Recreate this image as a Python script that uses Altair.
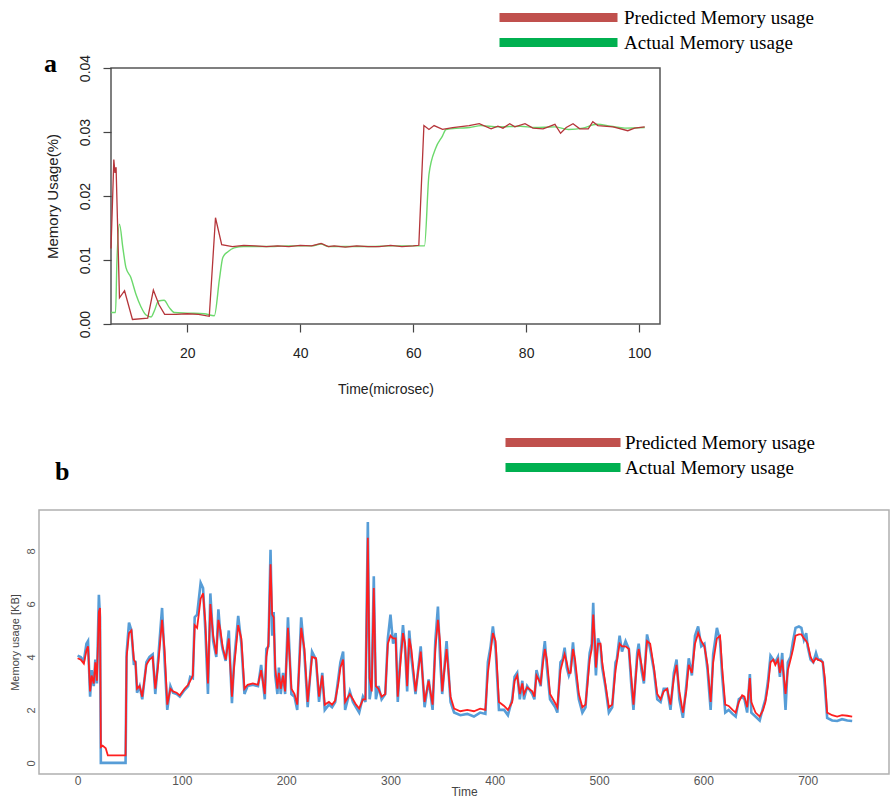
import altair as alt
import pandas as pd

# ---------------- panel a data ----------------
a_pred_t = [6.5, 6.8, 7.0, 7.2, 7.4, 8.0, 8.9, 10.3, 13.0, 14.0, 15.0, 16.0, 18.0, 20.0, 22.0, 23.9,
            25.0, 26.1, 28, 30, 32, 34, 36, 38, 40, 42, 43.7, 45, 46, 48, 50, 52, 54, 56, 58, 60, 61,
            61.9, 62.8, 63.7, 65.2, 67, 69.9, 71.7, 73.8, 75, 75.9, 77.1, 78, 79.8, 81.2, 83, 85.1,
            86.1, 87.1, 88.3, 89.5, 91, 91.8, 92.7, 95.4, 98, 99.2, 101]
a_pred_v = [0.0118, 0.0200, 0.0257, 0.0236, 0.0245, 0.0041, 0.0052, 0.0007, 0.0009, 0.0053, 0.0030,
            0.0015, 0.0015, 0.0016, 0.0015, 0.0012, 0.0166, 0.0124, 0.0121, 0.0123, 0.0122, 0.0121,
            0.0122, 0.0121, 0.0123, 0.0122, 0.0126, 0.0121, 0.0122, 0.0120, 0.0122, 0.0121, 0.0121,
            0.0123, 0.0121, 0.0122, 0.0123, 0.0310, 0.0304, 0.0310, 0.0304, 0.0307, 0.0310, 0.0313,
            0.0305, 0.0309, 0.0306, 0.0313, 0.0308, 0.0313, 0.0306, 0.0305, 0.0312, 0.0298, 0.0307,
            0.0313, 0.0305, 0.0305, 0.0316, 0.0310, 0.0308, 0.0302, 0.0306, 0.0308]

a_act_t = [6.5, 7.3, 7.55, 8.0, 8.6, 9.15, 10.0, 10.9, 11.8, 12.7, 13.6, 14.2, 14.9, 15.9, 16.8, 17.7,
           20, 23, 24.8, 25.7, 26.3, 27.2, 28.3, 30, 34, 38, 42, 43.7, 45, 48, 52, 56, 60, 62, 62.8,
           64, 65.2, 65.8, 68.2, 70, 72, 75, 79, 81.5, 85, 87.5, 90, 92.5, 95, 97.5, 101]
a_act_v = [0.0018, 0.0018, 0.0098, 0.0156, 0.0119, 0.0088, 0.0073, 0.0047, 0.0027, 0.0014, 0.0011,
           0.0021, 0.0036, 0.0037, 0.0026, 0.0018, 0.0017, 0.0016, 0.0013, 0.0070, 0.0104, 0.0113,
           0.0119, 0.0121, 0.0121, 0.0122, 0.0122, 0.0125, 0.0121, 0.0121, 0.0121, 0.0122, 0.0122,
           0.0122, 0.0234, 0.0275, 0.0294, 0.0304, 0.0306, 0.0307, 0.0310, 0.0308, 0.0309, 0.0307,
           0.0308, 0.0304, 0.0306, 0.0312, 0.0309, 0.0306, 0.0307]

# ---------------- panel b data ----------------
b_time = [0, 3, 6, 8.5, 10, 12, 13.5, 15.5, 17, 18.5, 20.4, 21.5, 22.3, 24, 27, 29, 46, 47, 49.3, 51.6,
          54, 55.5, 57, 59.5, 62, 66, 69, 72, 74.5, 77, 81, 83.5, 86, 89, 91.5, 95, 98, 102.5, 106,
          108, 110.5, 112.3, 114.6, 118, 120.3, 122.5, 125, 127.3, 130, 133, 135, 137, 139, 142, 145,
          148, 150, 154, 157, 160, 163, 168, 173, 176, 179.5, 181, 183, 185, 186.6, 188, 189.5, 191.6,
          193, 194.8, 197, 199, 201.7, 205, 208, 210.6, 214.4, 217.5, 220.6, 224.8, 228.6, 231.5,
          234.6, 237, 241, 244, 247, 250, 252, 254.6, 256.5, 261, 264, 267, 270, 273.6, 276, 278.3,
          280, 282, 284, 286, 288.5, 291.5, 295, 297.5, 300, 302.5, 305, 307, 309, 312, 314, 316, 318,
          320, 324, 329, 332.7, 336.6, 340.4, 343, 345.5, 347.5, 349.6, 353.8, 357.6, 361, 367, 373.6,
          380, 386, 391, 393.4, 396, 398.2, 400.8, 404, 409, 412.6, 416.7, 419, 421.5, 424, 426.4, 428,
          431, 436, 438, 440, 444, 446, 448, 450, 453, 458, 460, 463, 465, 467, 469, 471, 472.7, 475,
          477, 480.6, 484, 487, 489, 491, 493, 494.4, 496, 497, 499, 501.4, 503, 506, 509.4, 512.6,
          515.8, 517, 519.7, 522, 525.4, 528.6, 531, 533, 536.6, 538, 540.7, 543, 546, 549, 552.6,
          555.8, 559, 562, 565.3, 568.5, 571.7, 574.3, 577, 580.4, 583.6, 586, 589, 592, 595, 598, 601,
          604, 607, 609.4, 613, 616, 618, 621, 624.3, 628, 631, 634, 637.2, 639.4, 642, 644.6, 646,
          650, 654, 657.3, 659.5, 662, 664.4, 667, 669, 671.5, 673.4, 675.6, 678.8, 681, 683.6, 686,
          688.4, 691.6, 694, 696.4, 698.6, 700, 702.8, 705.4, 708, 710, 712.6, 714.5, 716.5, 718.7,
          723.5, 728.3, 733, 738, 742.7]
b_actual = [4.05, 4.0, 3.85, 4.5, 4.6, 2.5, 3.5, 2.9, 3.9, 3.0, 6.35, 5.5, 0.0, 0.0, 0.0, 0.0, 0.0, 4.15,
            5.3, 5.0, 3.7, 3.85, 2.65, 2.9, 2.4, 3.8, 4.0, 4.1, 2.6, 3.8, 5.85, 3.8, 2.0, 2.9, 2.65,
            2.6, 2.5, 2.75, 2.9, 3.25, 3.2, 5.5, 5.6, 6.8, 6.6, 5.0, 2.6, 6.4, 4.6, 4.0, 5.8, 4.8, 4.3,
            3.85, 5.0, 2.25, 3.8, 5.55, 4.5, 2.6, 2.9, 2.95, 2.9, 3.7, 2.4, 4.3, 4.4, 8.05, 4.8, 5.7,
            3.3, 2.6, 3.6, 2.6, 3.4, 2.6, 5.5, 2.6, 2.5, 2.0, 5.5, 4.1, 2.1, 4.2, 3.9, 2.3, 3.4, 2.0,
            2.2, 2.1, 2.3, 3.2, 3.8, 4.2, 2.0, 2.7, 2.3, 2.1, 1.9, 2.5, 2.3, 9.1, 2.4, 2.9, 7.05, 2.4,
            2.9, 2.4, 2.6, 4.7, 5.6, 4.5, 4.9, 2.3, 3.7, 5.2, 4.3, 2.7, 5.0, 4.0, 2.6, 4.4, 2.1, 3.15,
            2.0, 4.6, 5.9, 4.0, 2.6, 4.6, 2.3, 1.9, 1.8, 1.85, 1.75, 1.9, 1.85, 3.8, 4.4, 5.15, 4.3,
            2.0, 2.0, 1.8, 2.4, 3.25, 3.4, 2.4, 3.1, 2.4, 2.9, 2.6, 2.4, 3.5, 2.9, 3.9, 4.6, 3.6, 2.4,
            2.1, 1.9, 3.8, 3.9, 4.35, 3.6, 3.3, 3.5, 4.55, 3.6, 2.4, 1.9, 2.1, 3.2, 4.15, 4.5, 6.05,
            4.1, 3.3, 4.7, 4.4, 3.6, 2.9, 1.9, 2.1, 3.8, 3.9, 4.8, 4.2, 4.6, 4.3, 2.9, 2.0, 4.15, 4.5,
            3.5, 3.0, 4.85, 4.3, 3.5, 2.4, 2.3, 2.8, 2.8, 2.0, 3.4, 3.9, 2.4, 1.7, 2.9, 3.95, 3.3, 4.8,
            5.15, 4.4, 4.5, 3.5, 2.0, 4.1, 5.1, 4.6, 3.3, 1.9, 2.0, 1.85, 1.75, 2.4, 2.5, 2.4, 1.9,
            3.35, 1.9, 1.75, 1.6, 2.1, 2.4, 3.1, 4.05, 3.9, 3.8, 4.0, 3.25, 4.15, 2.0, 3.8, 4.0, 4.6,
            5.1, 5.15, 5.1, 4.65, 4.9, 4.4, 3.9, 3.8, 4.15, 3.9, 3.9, 3.8, 2.9, 1.7, 1.6, 1.58, 1.65,
            1.6, 1.58]
b_predicted = [3.95, 3.9, 3.75, 4.25, 4.4, 2.7, 3.3, 3.0, 3.8, 3.1, 5.7, 5.85, 0.6, 0.65, 0.55, 0.28,
               0.28, 4.0, 4.9, 5.0, 3.9, 3.8, 2.8, 2.9, 2.5, 3.7, 3.9, 4.0, 2.8, 3.6, 5.4, 4.2, 2.2,
               2.8, 2.7, 2.65, 2.55, 2.8, 2.95, 3.1, 3.3, 5.2, 5.1, 6.2, 6.4, 5.3, 3.0, 6.0, 4.8, 4.1,
               5.4, 5.0, 4.4, 3.9, 4.7, 2.5, 3.6, 5.2, 4.7, 2.8, 2.95, 3.0, 2.95, 3.5, 2.6, 4.0, 4.5,
               7.5, 5.6, 5.5, 3.6, 2.8, 3.4, 2.8, 3.3, 2.7, 5.1, 2.8, 2.6, 2.2, 5.1, 4.3, 2.3, 4.0, 3.95,
               2.5, 3.3, 2.2, 2.3, 2.2, 2.35, 3.0, 3.6, 3.9, 2.3, 2.6, 2.4, 2.2, 2.05, 2.4, 2.4, 8.5,
               3.2, 2.7, 6.6, 2.9, 2.8, 2.5, 2.6, 4.5, 4.8, 4.7, 4.7, 2.5, 3.5, 4.9, 4.5, 2.9, 4.7, 4.3,
               2.7, 4.2, 2.3, 3.1, 2.2, 4.3, 5.4, 4.6, 2.7, 4.3, 2.5, 2.05, 1.95, 2.0, 1.95, 2.05, 2.0,
               3.4, 4.2, 4.9, 4.6, 2.3, 2.15, 2.0, 2.3, 3.1, 3.3, 2.6, 3.0, 2.6, 2.85, 2.7, 2.5, 3.3,
               3.0, 3.7, 4.3, 3.9, 2.6, 2.25, 2.1, 3.5, 3.8, 4.1, 3.8, 3.4, 3.4, 4.3, 3.9, 2.6, 2.1, 2.2,
               3.0, 3.9, 4.3, 5.6, 4.6, 3.6, 4.5, 4.5, 3.8, 3.0, 2.1, 2.2, 3.5, 3.8, 4.5, 4.4, 4.4, 4.3,
               3.2, 2.2, 3.9, 4.3, 3.7, 3.1, 4.6, 4.5, 3.6, 2.6, 2.4, 2.7, 2.8, 2.2, 3.2, 3.7, 2.7, 1.9,
               2.7, 3.7, 3.4, 4.5, 4.9, 4.6, 4.4, 3.7, 2.3, 3.8, 4.7, 4.8, 3.6, 2.2, 2.15, 2.0, 1.9, 2.3,
               2.55, 2.5, 2.1, 3.2, 2.3, 1.9, 1.75, 2.0, 2.3, 2.9, 3.8, 3.9, 3.7, 3.9, 3.4, 3.9, 2.6,
               3.5, 3.9, 4.3, 4.8, 4.85, 4.85, 4.7, 4.6, 4.5, 4.0, 3.8, 3.95, 3.9, 3.85, 3.8, 3.2, 1.9,
               1.8, 1.75, 1.8, 1.78, 1.75]

legend_labels = ["Predicted Memory usage", "Actual Memory usage"]
legend_colors = ["#C0504D", "#00B050"]

SANS = "Liberation Sans"
SERIF = "Liberation Serif"


def legend_layer(xfield_val, yfield_val, xscale, yscale, lx, ly, bar_w, lab_off):
    df = pd.DataFrame({"s": legend_labels, "t": [xfield_val] * 2, "v": [yfield_val] * 2})
    return alt.Chart(df).mark_line(strokeWidth=0.01).encode(
        x=alt.X("t:Q", scale=xscale),
        y=alt.Y("v:Q", scale=yscale),
        stroke=alt.Stroke(
            "s:N",
            scale=alt.Scale(domain=legend_labels, range=legend_colors),
            legend=alt.Legend(
                title=None, orient="none", legendX=lx, legendY=ly,
                symbolType="stroke", symbolSize=bar_w * bar_w, symbolStrokeWidth=9,
                symbolOpacity=1, labelFont=SERIF, labelFontSize=19, labelColor="black",
                labelOffset=lab_off, clipHeight=25, rowPadding=0, padding=0,
                labelLimit=400, direction="vertical",
            ),
        ),
    )


# ---------------- panel a ----------------
xa_scale = alt.Scale(domain=[6.5, 103.7], nice=False, zero=False)
ya_scale = alt.Scale(domain=[0, 0.04], nice=False)
xa_axis = alt.Axis(values=[20, 40, 60, 80, 100], format="d", grid=False, domain=False,
                   tickSize=8, tickColor="#444", tickWidth=1.2, labelFont=SANS, labelFontSize=14,
                   labelColor="#222", labelPadding=14, title="Time(microsec)", titleFont=SANS,
                   titleFontSize=14, titleFontWeight="normal", titleColor="#222", titlePadding=22)
ya_axis = alt.Axis(values=[0, 0.01, 0.02, 0.03, 0.04], format=".2f", grid=False, domain=False,
                   tickSize=8, tickColor="#444", tickWidth=1.2, labelFont=SANS, labelFontSize=14,
                   labelColor="#222", labelPadding=11, labelAngle=270, labelAlign="center",
                   labelBaseline="bottom", title="Memory Usage(%)", titleFont=SANS,
                   titleFontSize=15, titleFontWeight="normal", titleColor="#222", titlePadding=18)

a_act_df = pd.DataFrame({"t": a_act_t, "v": a_act_v})
a_pred_df = pd.DataFrame({"t": a_pred_t, "v": a_pred_v})

a_green = alt.Chart(a_act_df).mark_line(color="#6cd96c", strokeWidth=1.4, interpolate="monotone").encode(
    x=alt.X("t:Q", scale=xa_scale, axis=xa_axis),
    y=alt.Y("v:Q", scale=ya_scale, axis=ya_axis),
)
a_red = alt.Chart(a_pred_df).mark_line(color="#b5353a", strokeWidth=1.3).encode(
    x=alt.X("t:Q", scale=xa_scale),
    y=alt.Y("v:Q", scale=ya_scale),
)
panel_a = alt.layer(
    a_green, a_red, legend_layer(50, 0.02, xa_scale, ya_scale, 384, -63, 118, 2)
).properties(
    width=549, height=256,
    view=alt.ViewBackground(stroke="#555", strokeWidth=1.5),
    title=alt.TitleParams(text="a", anchor="start", frame="group", dx=-67, dy=76,
                          font=SERIF, fontSize=26, fontWeight="bold", color="black"),
)

spacer = alt.Chart(pd.DataFrame({"t": [0]})).mark_point(opacity=0).encode(
    x=alt.X("t:Q", axis=None), y=alt.Y("t:Q", axis=None)
).properties(width=1, height=256, view=alt.ViewBackground(strokeOpacity=0))

# ---------------- panel b ----------------
xb_scale = alt.Scale(domain=[-37, 778], nice=False, zero=False)
yb_scale = alt.Scale(domain=[-0.42, 9.55], nice=False, zero=False)
xb_axis = alt.Axis(values=[0, 100, 200, 300, 400, 500, 600, 700], format="d", grid=False,
                   domain=False, ticks=False, tickSize=0, labelFont=SANS, labelFontSize=12,
                   labelColor="#555", labelPadding=1, title="Time", titleFont=SANS,
                   titleFontSize=12, titleFontWeight="normal", titleColor="#444", titlePadding=0)
yb_axis = alt.Axis(values=[0, 2, 4, 6, 8], format="d", grid=False, domain=False, ticks=False,
                   tickSize=0, labelFont=SANS, labelFontSize=11, labelColor="#555",
                   labelPadding=3, labelAngle=270, labelAlign="center", labelBaseline="bottom",
                   title="Memory usage [KB]", titleFont=SANS, titleFontSize=11,
                   titleFontWeight="normal", titleColor="#444", titlePadding=5)

b_df = pd.DataFrame({"t": b_time, "actual": b_actual, "pred": b_predicted})

b_blue = alt.Chart(b_df).mark_line(color="#3a8cd0", strokeWidth=2.6, opacity=0.85).encode(
    x=alt.X("t:Q", scale=xb_scale, axis=xb_axis),
    y=alt.Y("actual:Q", scale=yb_scale, axis=yb_axis),
)
b_red = alt.Chart(b_df).mark_line(color="#ff1f1f", strokeWidth=1.8).encode(
    x=alt.X("t:Q", scale=xb_scale),
    y=alt.Y("pred:Q", scale=yb_scale),
)
b_leg = legend_layer(300, 4, xb_scale, yb_scale, 462, -80, 115, 0)
panel_b = alt.layer(b_blue, b_red, b_leg).properties(
    width=850, height=264,
    view=alt.ViewBackground(stroke="#b0b0b0", strokeWidth=1.5),
    title=alt.TitleParams(text="b", anchor="start", frame="group", dx=16, dy=59,
                          font=SERIF, fontSize=26, fontWeight="bold", color="black"),
)

top_row = alt.hconcat(spacer, panel_a, spacing=0).resolve_scale(stroke="independent")
chart = alt.vconcat(top_row, panel_b, spacing=32).properties(
    padding={"left": 8, "top": 4, "right": 0, "bottom": 0},
    background="white",
).resolve_scale(stroke="independent").resolve_legend(stroke="independent")

chart.save("out.html", embed_options={"renderer": "svg", "actions": False})
